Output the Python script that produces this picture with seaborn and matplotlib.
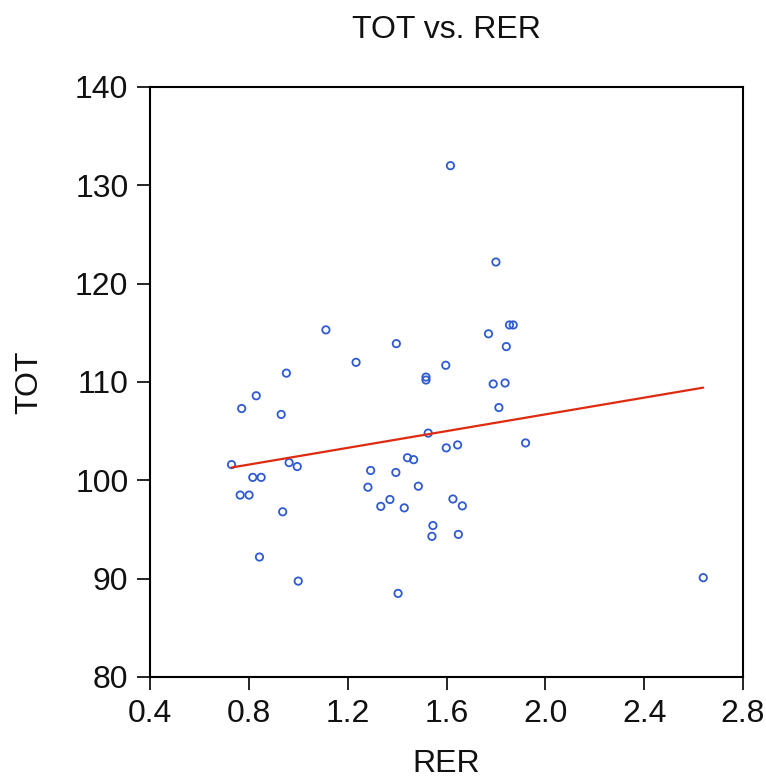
import numpy as np
import pandas as pd
import matplotlib
matplotlib.use("Agg")
import matplotlib.pyplot as plt
import seaborn as sns

rer = [1.616, 1.800, 1.112, 1.397, 1.234, 0.952, 1.597, 1.517, 1.517, 1.855,
       1.870, 1.770, 1.842, 0.830, 0.771, 0.931, 1.526, 1.599, 0.730, 0.963,
       0.996, 1.442, 1.467, 1.293, 1.395, 0.816, 0.850, 1.282, 1.486, 0.765,
       0.801, 1.371, 1.334, 1.429, 0.937, 1.545, 1.541, 0.843, 1.000, 1.404,
       1.789, 1.837, 1.812, 1.920, 1.645, 1.626, 1.664, 1.648, 2.639]
tot = [132.0, 122.2, 115.3, 113.9, 112.0, 110.9, 111.7, 110.5, 110.2, 115.8,
       115.8, 114.9, 113.6, 108.6, 107.3, 106.7, 104.8, 103.3, 101.6, 101.8,
       101.4, 102.3, 102.1, 101.0, 100.8, 100.3, 100.3, 99.3, 99.4, 98.5,
       98.5, 98.05, 97.35, 97.2, 96.8, 95.4, 94.3, 92.2, 89.75, 88.5,
       109.8, 109.9, 107.4, 103.8, 103.6, 98.1, 97.4, 94.5, 90.1]

x_ticks = [0.4, 0.8, 1.2, 1.6, 2.0, 2.4, 2.8]
y_ticks = [80, 90, 100, 110, 120, 130, 140]

df = pd.DataFrame({"RER": rer, "TOT": tot})

sns.set_style("white")
plt.rcParams["font.family"] = ["Liberation Sans", "DejaVu Sans"]

fig = plt.figure(figsize=(7.66, 7.83), dpi=100)
ax = fig.add_axes([0.1958, 0.1354, 0.7742, 0.7535])

sns.scatterplot(data=df, x="RER", y="TOT", ax=ax, marker="o", s=28,
                facecolors="none", edgecolor="#2f5bd0", linewidth=1.3)
sns.regplot(data=df, x="RER", y="TOT", ax=ax, scatter=False, ci=None,
            line_kws={"color": "#e02a10", "linewidth": 1.6})

ax.set_xlim(0.4, 2.8)
ax.set_ylim(80, 140)
ax.set_xticks(x_ticks)
ax.set_xticklabels([f"{v:.1f}" for v in x_ticks])
ax.set_yticks(y_ticks)
ax.set_yticklabels([str(v) for v in y_ticks])

ax.tick_params(axis="both", which="major", direction="out", length=9.5,
               width=1.2, labelsize=23, color="black", labelcolor="#111111",
               bottom=True, left=True, top=False, right=False)
ax.tick_params(axis="x", pad=6)
ax.tick_params(axis="y", pad=6)
for s in ax.spines.values():
    s.set_color("black")
    s.set_linewidth(1.5)

ax.set_xlabel("RER", fontsize=23, labelpad=15, color="#111111")
ax.set_ylabel("TOT", fontsize=23, labelpad=22, color="#111111")
ax.set_title("TOT vs. RER", fontsize=23, pad=35, color="#111111")

fig.savefig("out.png", dpi=100, facecolor="white")
